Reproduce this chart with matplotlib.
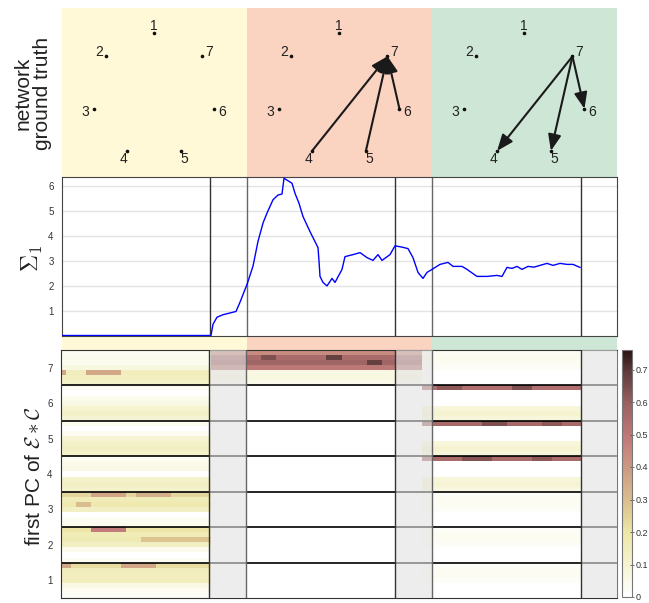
import numpy as np
import matplotlib
matplotlib.use('Agg')
import matplotlib.pyplot as plt
from matplotlib.colors import LinearSegmentedColormap
from matplotlib.patches import FancyArrowPatch, Rectangle

plt.rcParams['font.family'] = ['Liberation Sans', 'DejaVu Sans']
plt.rcParams['mathtext.fontset'] = 'cm'

# time axis: three epochs, each = analysis window + gap
epoch_edges = [0, 185, 370, 555]
seg_ends = [148, 333, 519]
band_colors = ['#FFF9D7', '#FBD3C1', '#CDE6D5']

# ground truth network per epoch
node_ids = [1, 2, 3, 4, 5, 6, 7]
edges = [[], [(4, 7), (5, 7), (6, 7)], [(7, 4), (7, 5), (7, 6)]]

# largest singular value over time
sigma_t = [0, 149, 151, 155, 161, 171, 174, 178, 185, 191, 196, 201, 205, 211,
           216, 220, 222, 224, 230, 233, 237, 241, 248, 253, 256, 257, 258, 261,
           265, 270, 273, 280, 283, 291, 298, 305, 311, 316, 320, 328, 333, 340,
           346, 351, 356, 361, 365, 370, 378, 386, 391, 400, 405, 415, 425, 435,
           440, 445, 450, 455, 460, 466, 472, 478, 485, 491, 498, 505, 511, 518]
sigma_v = [0.02, 0.02, 0.47, 0.75, 0.85, 0.95, 0.98, 1.35, 2.06, 2.79, 3.78, 4.51,
           4.91, 5.44, 5.63, 5.67, 6.3, 6.25, 6.1, 5.7, 5.3, 4.77, 4.17, 3.77, 3.53,
           3.0, 2.38, 2.14, 2.0, 2.3, 2.14, 2.66, 3.17, 3.25, 3.33, 3.13, 3.02, 3.25,
           3.02, 3.25, 3.6, 3.55, 3.49, 3.13, 2.54, 2.3, 2.54, 2.66, 2.86, 2.94, 2.78,
           2.78, 2.66, 2.38, 2.38, 2.42, 2.38, 2.74, 2.7, 2.78, 2.66, 2.78, 2.75,
           2.82, 2.9, 2.82, 2.9, 2.86, 2.86, 2.74]

# first PC of E*C: per node, 7 sub-rows (top -> bottom), per epoch
seg1_profile = [
    [0.22, 0.15, 0.14, 0.15, 0.06, 0.03, 0.02],   # node 1
    [0.20, 0.16, 0.17, 0.13, 0.04, 0.00, 0.03],   # node 2
    [0.24, 0.16, 0.18, 0.13, 0.00, 0.03, 0.04],   # node 3
    [0.03, 0.05, 0.06, 0.00, 0.11, 0.13, 0.11],   # node 4
    [0.04, 0.00, 0.03, 0.09, 0.12, 0.13, 0.11],   # node 5
    [0.03, 0.00, 0.04, 0.06, 0.10, 0.12, 0.09],   # node 6
    [0.03, 0.04, 0.04, 0.07, 0.15, 0.14, 0.12],   # node 7
]
seg2_profile = [
    [0.00, 0.00, 0.00, 0.00, 0.00, 0.00, 0.00],
    [0.00, 0.00, 0.00, 0.00, 0.00, 0.00, 0.00],
    [0.00, 0.00, 0.00, 0.00, 0.00, 0.00, 0.00],
    [0.00, 0.00, 0.00, 0.00, 0.00, 0.00, 0.00],
    [0.00, 0.00, 0.00, 0.00, 0.00, 0.00, 0.00],
    [0.00, 0.00, 0.00, 0.00, 0.00, 0.00, 0.00],
    [0.44, 0.55, 0.58, 0.50, 0.06, 0.07, 0.05],
]
seg3_profile = [
    [0.02, 0.03, 0.03, 0.02, 0.00, 0.00, 0.00],
    [0.02, 0.03, 0.03, 0.02, 0.00, 0.00, 0.00],
    [0.02, 0.03, 0.03, 0.02, 0.00, 0.00, 0.00],
    [0.55, 0.00, 0.00, 0.00, 0.08, 0.09, 0.07],
    [0.56, 0.00, 0.00, 0.00, 0.08, 0.10, 0.08],
    [0.54, 0.00, 0.00, 0.00, 0.08, 0.10, 0.08],
    [0.03, 0.04, 0.03, 0.02, 0.00, 0.00, 0.00],
]
# darker patches: (node, sub-row, t start, t end, value)
hot_spots = [
    (2, 0, 28, 65, 0.48), (2, 2, 80, 148, 0.28),
    (3, 0, 30, 65, 0.36), (3, 0, 75, 110, 0.34), (3, 2, 15, 30, 0.30),
    (1, 0, 0, 10, 0.36), (1, 0, 58, 95, 0.36),
    (7, 4, 0, 5, 0.36), (7, 4, 25, 60, 0.36),
    (7, 1, 265, 280, 0.68), (7, 2, 305, 318, 0.68), (7, 1, 200, 215, 0.64),
    (6, 0, 375, 398, 0.62), (6, 0, 450, 470, 0.64),
    (5, 0, 420, 445, 0.64), (5, 0, 480, 500, 0.62),
    (4, 0, 400, 430, 0.63), (4, 0, 470, 490, 0.62),
]

# column phases: which epoch profile fills each stretch of time
phase_edges = [0, 148, 185, 333, 359, 370, 519, 555]
phase_src = [0, 1, 1, 1, 2, 2, None]

cmap = LinearSegmentedColormap.from_list('pc', [
    (0.00, '#FFFFFF'), (0.07, '#FAF9E8'), (0.13, '#F5F3D0'), (0.26, '#EDE7A8'),
    (0.36, '#DDC792'), (0.50, '#CFA086'), (0.64, '#C17B7A'), (0.78, '#9C6262'),
    (0.91, '#603C3C'), (1.00, '#2A1414')])

fig = plt.figure(figsize=(6.49, 6.03), dpi=100)

# --- network panel (background bands) ---
ax0 = fig.add_axes([62 / 649, 1 - 350 / 603, 555 / 649, 342 / 603])
ax0.set_xlim(0, 555)
ax0.set_ylim(342, 0)
for i in range(3):
    ax0.axvspan(epoch_edges[i], epoch_edges[i + 1], color=band_colors[i], lw=0)
ax0.axis('off')

radius = 62
ang = np.deg2rad(90 + 360 / 7 * np.arange(7))
for i in range(3):
    cx = epoch_edges[i] + 92
    cy = 87
    px = cx + radius * np.cos(ang)
    py = cy - radius * np.sin(ang)
    ax0.plot(px, py, 'o', ms=1.6, color='#111')
    for n in range(7):
        ax0.text(cx + 70 * np.cos(ang[n]), cy - 70 * np.sin(ang[n]) + 1, str(node_ids[n]),
                 ha='center', va='center', fontsize=10, color='#222')
    for a, b in edges[i]:
        arr = FancyArrowPatch((px[a - 1], py[a - 1]), (px[b - 1], py[b - 1]),
                              arrowstyle='-|>,head_length=0.7,head_width=0.28',
                              mutation_scale=14, lw=1.5, color='#1a1a1a',
                              shrinkA=0, shrinkB=0)
        ax0.add_patch(arr)

fig.text(33 / 649, 1 - 93 / 603, 'network\nground truth', rotation=90,
         ha='center', va='center', fontsize=15, color='#222', linespacing=1.0)

# --- sigma_1 panel ---
ax1 = fig.add_axes([62 / 649, 1 - 336 / 603, 555 / 649, 159 / 603])
ax1.plot(sigma_t, sigma_v, color='#0000FF', lw=1.0, zorder=3)
for s in seg_ends:
    ax1.axvline(s, color='#333333', lw=1)
for e in epoch_edges[1:3]:
    ax1.axvline(e, color='#666666', lw=1)
ax1.set_xlim(0, 555)
ax1.set_ylim(0, 6.35)
ax1.set_yticks(range(1, 7))
ax1.set_xticks([])
ax1.grid(axis='y', color='#E3E3E3', lw=1)
ax1.set_axisbelow(True)
ax1.tick_params(axis='y', length=0, labelsize=7, labelcolor='#333', pad=6)
for sp in ax1.spines.values():
    sp.set_color('#444')
fig.text(32 / 649, 1 - 258 / 603, r'$\Sigma_1$', rotation=90, ha='center', va='center',
         fontsize=17, color='#222')

# --- heatmap panel ---
n_sub = 7
col_edges = np.linspace(0, 555, 112)
col_mid = (col_edges[:-1] + col_edges[1:]) / 2
profiles = [seg1_profile, seg2_profile, seg3_profile]
Z = np.zeros((7 * n_sub, len(col_mid)))
for c, t in enumerate(col_mid):
    p = np.searchsorted(phase_edges, t, side='right') - 1
    src = phase_src[min(p, len(phase_src) - 1)]
    if src is None:
        continue
    for k in range(7):
        for j in range(n_sub):
            Z[k * n_sub + (n_sub - 1 - j), c] = profiles[src][k][j]
for node, j, t0, t1, v in hot_spots:
    sel = (col_mid >= t0) & (col_mid < t1)
    Z[(node - 1) * n_sub + (n_sub - 1 - j), sel] = v

ax2 = fig.add_axes([61 / 649, 1 - 598 / 603, 556 / 649, 248 / 603])
mesh = ax2.pcolormesh(col_edges, np.linspace(0, 7, 7 * n_sub + 1), Z, cmap=cmap,
                      vmin=0, vmax=0.76, shading='flat')
ax2.hlines(range(1, 7), 0, 555, color='black', lw=1.2, zorder=2)
for i in range(3):
    ax2.add_patch(Rectangle((seg_ends[i], 0), epoch_edges[i + 1] - seg_ends[i], 7,
                            facecolor='#E2E2E2', alpha=0.6, lw=0, zorder=3))
    ax2.axvline(seg_ends[i], color='#333333', lw=1, zorder=4)
for e in epoch_edges[1:3]:
    ax2.axvline(e, color='#666666', lw=1, zorder=4)
ax2.set_xlim(0, 555)
ax2.set_ylim(0, 7)
ax2.set_xticks([])
ax2.set_yticks(np.arange(7) + 0.5)
ax2.set_yticklabels([str(n) for n in node_ids])
ax2.tick_params(axis='y', length=0, labelsize=7, labelcolor='#333', pad=6)
for sp in ax2.spines.values():
    sp.set_color('#333')
ax2.spines['right'].set_color('#777')
fig.text(34 / 649, 1 - 476 / 603, r'first PC of $\mathcal{E} * \mathcal{C}$', rotation=90,
         ha='center', va='center', fontsize=15, color='#222')

cax = fig.add_axes([622 / 649, 1 - 597 / 603, 10 / 649, 247 / 603])
cb = fig.colorbar(mesh, cax=cax, ticks=[0, 0.1, 0.2, 0.3, 0.4, 0.5, 0.6, 0.7])
cb.ax.set_yticklabels(['0', '0.1', '0.2', '0.3', '0.4', '0.5', '0.6', '0.7'])
cb.ax.tick_params(labelsize=6.5, labelcolor='#333', length=3, width=0.6, pad=1,
                  direction='inout', color='#555')
cb.outline.set_edgecolor('#777')

fig.savefig('out.png', dpi=100)
